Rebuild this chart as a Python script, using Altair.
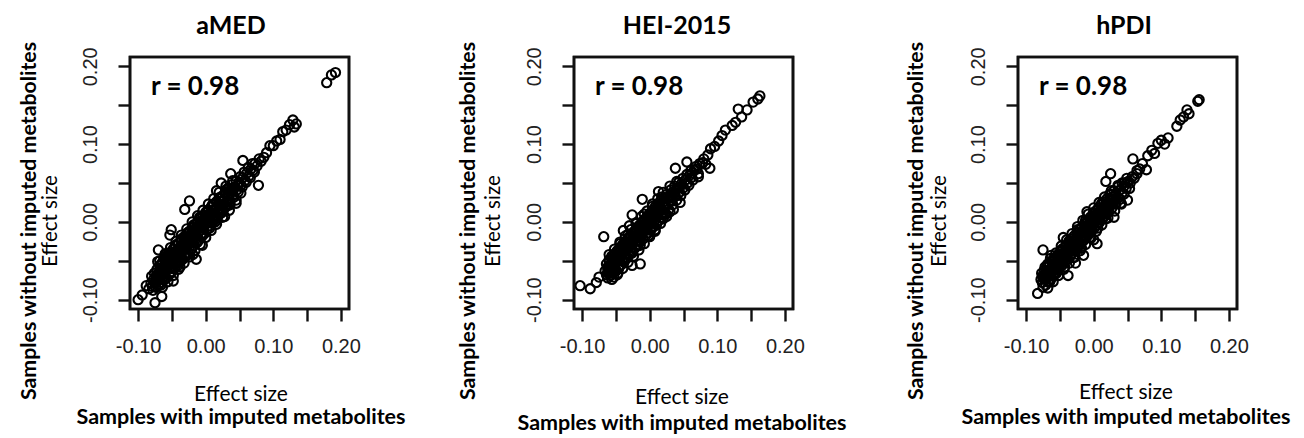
import altair as alt
import pandas as pd

# ---------------- data ----------------
panel_titles = ["aMED", "HEI-2015", "hPDI"]
r_labels = ["r = 0.98", "r = 0.98", "r = 0.98"]
tick_values = [-0.10, -0.05, 0.00, 0.05, 0.10, 0.15, 0.20]
axis_domain = [-0.112, 0.212]

amed_points = [
    (0.179, 0.179), (0.186, 0.189), (0.192, 0.192), (0.129, 0.131), (0.134, 0.126),
    (0.131, 0.122), (0.124, 0.125), (0.119, 0.118), (0.114, 0.116), (0.110, 0.106),
    (0.105, 0.104), (0.100, 0.098), (0.095, 0.098), (0.090, 0.089), (0.086, 0.083),
    (0.055, 0.079), (0.078, 0.047), (0.037, 0.062), (0.023, 0.050), (0.016, 0.040),
    (-0.024, 0.027), (-0.031, 0.016), (-0.051, -0.010), (-0.053, -0.017), (-0.070, -0.036),
    (-0.071, -0.051), (-0.048, -0.076), (-0.100, -0.100), (-0.094, -0.094), (-0.075, -0.104),
    (-0.065, -0.096), (-0.019, -0.042), (-0.014, -0.048), (0.028, 0.007), (0.052, 0.037),
    (-0.066, -0.081), (-0.038, -0.058), (-0.088, -0.082), (0.045, 0.028), (-0.005, -0.030),
    (-0.084, -0.086), (-0.081, -0.079), (-0.079, -0.083), (-0.077, -0.074), (-0.075, -0.078),
    (-0.073, -0.069), (-0.071, -0.073), (-0.069, -0.065), (-0.068, -0.070), (-0.066, -0.062),
    (-0.064, -0.067), (-0.063, -0.058), (-0.061, -0.064), (-0.060, -0.055), (-0.058, -0.061),
    (-0.057, -0.051), (-0.056, -0.058), (-0.054, -0.049), (-0.053, -0.055), (-0.051, -0.045),
    (-0.050, -0.052), (-0.048, -0.043), (-0.047, -0.049), (-0.046, -0.039), (-0.044, -0.046),
    (-0.043, -0.037), (-0.041, -0.044), (-0.040, -0.034), (-0.038, -0.041), (-0.037, -0.031),
    (-0.035, -0.038), (-0.034, -0.028), (-0.032, -0.035), (-0.031, -0.025), (-0.029, -0.032),
    (-0.028, -0.022), (-0.026, -0.029), (-0.025, -0.019), (-0.023, -0.026), (-0.022, -0.016),
    (-0.020, -0.023), (-0.019, -0.013), (-0.017, -0.020), (-0.016, -0.010), (-0.014, -0.017),
    (-0.013, -0.007), (-0.011, -0.014), (-0.010, -0.004), (-0.008, -0.011), (-0.007, -0.001),
    (-0.005, -0.008), (-0.004, 0.002), (-0.002, -0.005), (0.000, 0.005), (0.001, -0.002),
    (0.003, 0.008), (0.005, 0.001), (0.007, 0.011), (0.009, 0.004), (0.011, 0.014),
    (0.013, 0.008), (0.015, 0.018), (0.017, 0.012), (0.019, 0.022), (0.021, 0.016),
    (0.023, 0.026), (0.026, 0.020), (0.028, 0.030), (0.030, 0.025), (0.033, 0.035),
    (0.035, 0.029), (0.038, 0.040), (0.040, 0.034), (0.043, 0.045), (0.046, 0.041),
    (0.049, 0.051), (0.052, 0.047), (0.055, 0.057), (0.058, 0.053), (0.061, 0.063),
    (0.064, 0.059), (0.067, 0.068), (0.070, 0.066), (0.073, 0.075), (0.076, 0.072),
    (0.079, 0.081), (0.082, 0.078),
    (-0.058, -0.045), (-0.050, -0.060), (-0.045, -0.030), (-0.040, -0.052), (-0.036, -0.022),
    (-0.030, -0.044), (-0.027, -0.014), (-0.021, -0.035), (-0.018, -0.004), (-0.012, -0.026),
    (-0.009, 0.006), (-0.003, -0.016), (0.002, 0.014), (0.006, -0.008), (0.010, 0.022),
    (0.014, 0.000), (0.020, 0.031), (0.024, 0.012), (0.031, 0.042), (0.036, 0.022),
    (-0.062, -0.048), (-0.065, -0.074), (-0.055, -0.040), (-0.047, -0.057),
]

amed_band = [
    (-0.080, -0.070), (-0.078, -0.088), (-0.076, -0.066), (-0.074, -0.084), (-0.072, -0.061),
    (-0.070, -0.082), (-0.068, -0.056), (-0.066, -0.078), (-0.064, -0.052), (-0.062, -0.075),
    (-0.060, -0.047), (-0.058, -0.072), (-0.056, -0.043), (-0.054, -0.068), (-0.052, -0.040),
    (-0.050, -0.064), (-0.048, -0.035), (-0.046, -0.060), (-0.044, -0.031), (-0.042, -0.057),
    (-0.040, -0.027), (-0.038, -0.052), (-0.036, -0.024), (-0.034, -0.048), (-0.032, -0.019),
    (-0.030, -0.045), (-0.028, -0.016), (-0.026, -0.040), (-0.024, -0.012), (-0.022, -0.036),
    (-0.020, -0.008), (-0.018, -0.031), (-0.016, -0.004), (-0.014, -0.027), (-0.012, 0.000),
    (-0.010, -0.023), (-0.008, 0.004), (-0.006, -0.019), (-0.004, 0.008), (-0.002, -0.015),
    (0.000, 0.012), (0.002, -0.010), (0.004, 0.015), (0.006, -0.005), (0.008, 0.019),
    (0.010, -0.001), (0.012, 0.023), (0.014, 0.003), (0.016, 0.026), (0.018, 0.007),
    (0.020, 0.030), (0.022, 0.011), (0.024, 0.033), (0.026, 0.015), (0.029, 0.038),
    (0.031, 0.020), (0.034, 0.043), (0.036, 0.026), (0.039, 0.048), (0.042, 0.032),
    (0.045, 0.053), (0.048, 0.038), (0.051, 0.058), (0.054, 0.045), (0.057, 0.064),
    (0.060, 0.051), (0.063, 0.070), (0.066, 0.057), (0.069, 0.075), (0.072, 0.064),
    (-0.070, -0.069), (-0.065, -0.064), (-0.059, -0.058), (-0.052, -0.050), (-0.046, -0.044),
    (-0.040, -0.039), (-0.034, -0.033), (-0.028, -0.026), (-0.022, -0.020), (-0.016, -0.015),
    (-0.010, -0.008), (-0.004, -0.002), (0.002, 0.004), (0.008, 0.010), (0.014, 0.015),
    (0.020, 0.021), (0.027, 0.027), (0.034, 0.034), (0.041, 0.041), (0.048, 0.047),
]

amed_core = [
    (-0.068, -0.050), (-0.064, -0.084), (-0.060, -0.041), (-0.056, -0.077), (-0.052, -0.033),
    (-0.048, -0.069), (-0.044, -0.025), (-0.040, -0.061), (-0.036, -0.017), (-0.032, -0.053),
    (-0.028, -0.009), (-0.024, -0.045), (-0.020, 0.000), (-0.016, -0.037), (-0.012, 0.008),
    (-0.008, -0.029), (-0.004, 0.015), (0.000, -0.020), (0.004, 0.023), (0.008, -0.011),
    (0.012, 0.030), (0.016, -0.003), (0.020, 0.038), (0.025, 0.006), (0.030, 0.046),
    (0.035, 0.015), (0.040, 0.053), (0.045, 0.024),
    (-0.067, -0.060), (-0.061, -0.070), (-0.055, -0.047), (-0.049, -0.058), (-0.043, -0.041),
    (-0.037, -0.045), (-0.031, -0.020), (-0.025, -0.035), (-0.019, -0.026), (-0.013, -0.002),
    (-0.007, -0.016), (-0.001, 0.009), (0.005, -0.001), (0.011, 0.005), (0.017, 0.025),
    (0.023, 0.016), (0.029, 0.019), (0.035, 0.040),
]

hei_points = [
    (0.163, 0.162), (0.160, 0.158), (0.153, 0.154), (0.144, 0.144), (0.131, 0.145),
    (0.136, 0.135), (0.127, 0.128), (0.122, 0.124), (0.112, 0.118), (0.107, 0.111),
    (0.102, 0.104), (0.096, 0.097), (0.090, 0.094), (0.086, 0.086), (0.080, 0.081),
    (0.089, 0.069), (0.083, 0.074), (0.055, 0.077), (0.038, 0.069), (0.072, 0.058),
    (0.063, 0.063), (0.013, 0.039), (-0.011, 0.029), (-0.026, 0.009), (-0.039, -0.011),
    (-0.068, -0.019), (-0.014, -0.054), (-0.026, -0.056), (-0.053, -0.071), (-0.075, -0.071),
    (-0.079, -0.078), (-0.088, -0.086), (-0.103, -0.082), (-0.046, -0.060), (-0.061, -0.066),
    (0.030, 0.013), (0.020, 0.004), (-0.040, -0.050), (0.008, -0.012), (-0.030, -0.005),
    (-0.066, -0.063), (-0.064, -0.068), (-0.062, -0.058), (-0.060, -0.064), (-0.058, -0.054),
    (-0.057, -0.061), (-0.055, -0.050), (-0.054, -0.057), (-0.052, -0.046), (-0.051, -0.054),
    (-0.049, -0.043), (-0.048, -0.050), (-0.046, -0.039), (-0.045, -0.047), (-0.043, -0.036),
    (-0.042, -0.044), (-0.040, -0.032), (-0.039, -0.040), (-0.037, -0.029), (-0.036, -0.037),
    (-0.034, -0.026), (-0.033, -0.034), (-0.031, -0.022), (-0.030, -0.031), (-0.028, -0.019),
    (-0.027, -0.028), (-0.025, -0.016), (-0.024, -0.025), (-0.022, -0.013), (-0.021, -0.022),
    (-0.019, -0.010), (-0.018, -0.019), (-0.016, -0.007), (-0.015, -0.016), (-0.013, -0.004),
    (-0.012, -0.013), (-0.010, -0.001), (-0.009, -0.010), (-0.007, 0.002), (-0.006, -0.007),
    (-0.004, 0.005), (-0.003, -0.004), (-0.001, 0.008), (0.001, -0.001), (0.003, 0.011),
    (0.005, 0.003), (0.007, 0.014), (0.009, 0.007), (0.011, 0.018), (0.013, 0.011),
    (0.015, 0.022), (0.017, 0.015), (0.020, 0.026), (0.022, 0.019), (0.025, 0.030),
    (0.027, 0.023), (0.030, 0.034), (0.032, 0.028), (0.035, 0.039), (0.038, 0.033),
    (0.041, 0.044), (0.044, 0.038), (0.047, 0.049), (0.050, 0.044), (0.053, 0.054),
    (0.056, 0.050), (0.059, 0.060), (0.062, 0.057), (0.066, 0.067), (0.070, 0.068),
    (0.074, 0.075), (0.078, 0.076),
    (-0.056, -0.044), (-0.050, -0.062), (-0.044, -0.028), (-0.038, -0.052), (-0.032, -0.016),
    (-0.026, -0.040), (-0.020, -0.002), (-0.014, -0.030), (-0.008, 0.010), (-0.002, -0.018),
    (0.004, 0.020), (0.010, -0.004), (0.018, 0.032), (0.024, 0.010), (-0.060, -0.050),
    (-0.047, -0.066),
]

hei_band = [
    (-0.064, -0.054), (-0.062, -0.072), (-0.060, -0.049), (-0.058, -0.069), (-0.056, -0.045),
    (-0.054, -0.066), (-0.052, -0.041), (-0.050, -0.063), (-0.048, -0.037), (-0.046, -0.059),
    (-0.044, -0.033), (-0.042, -0.055), (-0.040, -0.029), (-0.038, -0.050), (-0.036, -0.025),
    (-0.034, -0.046), (-0.032, -0.021), (-0.030, -0.042), (-0.028, -0.017), (-0.026, -0.038),
    (-0.024, -0.013), (-0.022, -0.034), (-0.020, -0.009), (-0.018, -0.030), (-0.016, -0.005),
    (-0.014, -0.026), (-0.012, -0.001), (-0.010, -0.022), (-0.008, 0.003), (-0.006, -0.018),
    (-0.004, 0.007), (-0.002, -0.014), (0.000, 0.011), (0.002, -0.010), (0.004, 0.015),
    (0.006, -0.006), (0.008, 0.019), (0.010, -0.002), (0.012, 0.023), (0.014, 0.002),
    (0.016, 0.027), (0.018, 0.006), (0.021, 0.031), (0.023, 0.011), (0.026, 0.036),
    (0.028, 0.016), (0.031, 0.041), (0.034, 0.022), (0.037, 0.046), (0.040, 0.028),
    (0.043, 0.051), (0.046, 0.034), (0.049, 0.056), (0.052, 0.041), (0.055, 0.061),
    (0.058, 0.047), (0.061, 0.066), (0.064, 0.054), (0.068, 0.071), (0.072, 0.062),
    (-0.062, -0.061), (-0.056, -0.055), (-0.050, -0.049), (-0.044, -0.042), (-0.038, -0.036),
    (-0.032, -0.030), (-0.026, -0.024), (-0.020, -0.018), (-0.014, -0.012), (-0.008, -0.005),
    (-0.002, 0.001), (0.004, 0.007), (0.010, 0.012), (0.016, 0.018), (0.023, 0.024),
    (0.030, 0.031), (0.037, 0.037), (0.044, 0.044),
]

hei_core = [
    (-0.060, -0.042), (-0.056, -0.074), (-0.052, -0.035), (-0.048, -0.068), (-0.044, -0.026),
    (-0.040, -0.060), (-0.036, -0.018), (-0.032, -0.052), (-0.028, -0.010), (-0.024, -0.044),
    (-0.020, -0.001), (-0.016, -0.036), (-0.012, 0.007), (-0.008, -0.028), (-0.004, 0.014),
    (0.000, -0.019), (0.004, 0.023), (0.008, -0.010), (0.012, 0.030), (0.016, -0.002),
    (0.020, 0.038), (0.025, 0.007), (0.030, 0.046), (0.035, 0.016), (0.040, 0.052),
    (0.045, 0.025),
    (-0.059, -0.056), (-0.053, -0.061), (-0.047, -0.040), (-0.041, -0.048), (-0.035, -0.029),
    (-0.029, -0.036), (-0.023, -0.014), (-0.017, -0.024), (-0.011, -0.004), (-0.005, -0.011),
    (0.001, 0.010), (0.007, 0.001), (0.013, 0.020), (0.019, 0.012), (0.026, 0.031),
    (0.033, 0.027),
]

hpdi_points = [
    (0.154, 0.155), (0.156, 0.157), (0.138, 0.144), (0.141, 0.139), (0.133, 0.135),
    (0.123, 0.123), (0.128, 0.131), (0.100, 0.105), (0.105, 0.100), (0.095, 0.101),
    (0.086, 0.092), (0.080, 0.085), (0.078, 0.067), (0.058, 0.081), (0.072, 0.075),
    (0.025, 0.062), (0.018, 0.052), (0.050, 0.028), (0.005, -0.028), (0.000, -0.023),
    (-0.075, -0.036), (-0.063, -0.043), (-0.038, -0.069), (-0.065, -0.077), (-0.083, -0.092),
    (-0.015, -0.043), (-0.027, -0.053), (-0.076, -0.070), (-0.070, -0.064), (-0.010, 0.013),
    (0.064, 0.062), (0.090, 0.088), (0.110, 0.108), (0.045, 0.050), (-0.045, -0.020),
    (0.030, 0.006), (-0.052, -0.062), (0.040, 0.024),
    (-0.078, -0.074), (-0.076, -0.078), (-0.074, -0.069), (-0.072, -0.073), (-0.070, -0.067),
    (-0.068, -0.071), (-0.066, -0.063), (-0.064, -0.067), (-0.062, -0.058), (-0.060, -0.063),
    (-0.058, -0.054), (-0.056, -0.059), (-0.054, -0.050), (-0.052, -0.055), (-0.050, -0.045),
    (-0.048, -0.051), (-0.046, -0.041), (-0.044, -0.047), (-0.042, -0.037), (-0.040, -0.043),
    (-0.038, -0.033), (-0.036, -0.039), (-0.034, -0.029), (-0.032, -0.035), (-0.030, -0.025),
    (-0.028, -0.031), (-0.026, -0.021), (-0.024, -0.027), (-0.022, -0.017), (-0.020, -0.023),
    (-0.018, -0.013), (-0.016, -0.019), (-0.014, -0.009), (-0.012, -0.015), (-0.010, -0.005),
    (-0.008, -0.011), (-0.006, -0.001), (-0.004, -0.007), (-0.002, 0.003), (0.000, -0.003),
    (0.002, 0.007), (0.004, 0.001), (0.006, 0.011), (0.008, 0.005), (0.010, 0.015),
    (0.012, 0.009), (0.014, 0.019), (0.016, 0.013), (0.018, 0.023), (0.020, 0.017),
    (0.023, 0.027), (0.025, 0.021), (0.028, 0.032), (0.030, 0.026), (0.033, 0.036),
    (0.036, 0.031), (0.039, 0.041), (0.042, 0.037), (0.045, 0.046), (0.048, 0.043),
    (0.051, 0.052), (0.054, 0.050), (0.057, 0.058), (0.060, 0.056), (0.064, 0.066),
    (0.068, 0.068),
    (-0.060, -0.048), (-0.055, -0.066), (-0.048, -0.036), (-0.043, -0.058), (-0.036, -0.024),
    (-0.030, -0.046), (-0.024, -0.010), (-0.018, -0.034), (-0.012, 0.002), (-0.006, -0.020),
    (0.000, 0.012), (0.006, -0.008), (0.012, 0.024), (0.018, 0.004), (-0.068, -0.054),
    (0.024, 0.036),
]

hpdi_band = [
    (-0.077, -0.066), (-0.075, -0.084), (-0.073, -0.062), (-0.071, -0.081), (-0.069, -0.058),
    (-0.067, -0.077), (-0.065, -0.054), (-0.063, -0.073), (-0.061, -0.050), (-0.059, -0.069),
    (-0.057, -0.046), (-0.055, -0.064), (-0.053, -0.042), (-0.051, -0.060), (-0.049, -0.038),
    (-0.047, -0.056), (-0.045, -0.034), (-0.043, -0.052), (-0.041, -0.030), (-0.039, -0.048),
    (-0.037, -0.026), (-0.035, -0.044), (-0.033, -0.022), (-0.031, -0.040), (-0.029, -0.018),
    (-0.027, -0.036), (-0.025, -0.014), (-0.023, -0.032), (-0.021, -0.010), (-0.019, -0.028),
    (-0.017, -0.006), (-0.015, -0.024), (-0.013, -0.002), (-0.011, -0.020), (-0.009, 0.002),
    (-0.007, -0.016), (-0.005, 0.006), (-0.003, -0.012), (-0.001, 0.010), (0.001, -0.008),
    (0.003, 0.014), (0.005, -0.004), (0.007, 0.018), (0.009, 0.000), (0.011, 0.022),
    (0.013, 0.004), (0.015, 0.026), (0.017, 0.008), (0.020, 0.030), (0.022, 0.013),
    (0.025, 0.035), (0.027, 0.018), (0.030, 0.040), (0.033, 0.023), (0.036, 0.045),
    (0.039, 0.029), (0.042, 0.050), (0.045, 0.036), (0.049, 0.056), (0.053, 0.043),
    (-0.074, -0.073), (-0.068, -0.066), (-0.062, -0.061), (-0.056, -0.055), (-0.050, -0.048),
    (-0.044, -0.043), (-0.038, -0.036), (-0.032, -0.031), (-0.026, -0.024), (-0.020, -0.019),
    (-0.014, -0.012), (-0.008, -0.007), (-0.002, 0.000), (0.004, 0.005), (0.010, 0.011),
    (0.016, 0.017), (0.022, 0.023), (0.028, 0.029),
]

hpdi_core = [
    (-0.072, -0.058), (-0.068, -0.085), (-0.064, -0.047), (-0.060, -0.077), (-0.056, -0.040),
    (-0.052, -0.069), (-0.048, -0.031), (-0.044, -0.061), (-0.040, -0.023), (-0.036, -0.053),
    (-0.032, -0.015), (-0.028, -0.045), (-0.024, -0.006), (-0.020, -0.037), (-0.016, 0.002),
    (-0.012, -0.029), (-0.008, 0.010), (-0.004, -0.021), (0.000, 0.018), (0.004, -0.012),
    (0.008, 0.025), (0.012, -0.004), (0.016, 0.032), (0.021, 0.005), (0.026, 0.040),
    (0.031, 0.014), (0.036, 0.047), (0.041, 0.023),
    (-0.071, -0.066), (-0.065, -0.070), (-0.059, -0.051), (-0.053, -0.058), (-0.047, -0.044),
    (-0.041, -0.046), (-0.035, -0.028), (-0.029, -0.037), (-0.023, -0.016), (-0.017, -0.024),
    (-0.011, -0.005), (-0.005, -0.012), (0.001, 0.008), (0.007, -0.001), (0.013, 0.017),
    (0.019, 0.011), (0.026, 0.030), (0.032, 0.024),
]

x_title_top = "Effect size"
x_title_bottom = "Samples with imputed metabolites"
y_title_outer = "Samples without imputed metabolites"
y_title_inner = "Effect size"

# ---------------- layout / style ----------------
W, H = 219, 252
TITLE_FONT = "Lato"
TICK_FONT = "Liberation Sans"
LINE = "#111111"

# per-panel fine placement of the free text (pixels relative to plot area)
layout = [
    dict(tx=101, ytx_outer=-100, ytx_inner=-79, xt_x=111, xt_y1=338, xt_y2=361),
    dict(tx=103, ytx_outer=-105, ytx_inner=-80, xt_x=108, xt_y1=341, xt_y2=367),
    dict(tx=106, ytx_outer=-101, ytx_inner=-78, xt_x=108, xt_y1=336, xt_y2=361),
]

label_expr = ("round(datum.value*20) % 2 == 0 ? "
              "(datum.value < 0 ? '-' + format(-datum.value, '.2f') : format(datum.value, '.2f')) : ''")


def text_layer(txt, x, y, size, weight="normal", angle=0, font=TITLE_FONT, align="center"):
    return alt.Chart(pd.DataFrame({"t": [txt]})).mark_text(
        font=font, fontSize=size, fontWeight=weight, angle=angle,
        align=align, baseline="middle", color="black"
    ).encode(x=alt.value(x), y=alt.value(y), text="t:N")


def panel(points, title, rlab, lay):
    df = pd.DataFrame(points, columns=["x", "y"])
    box = alt.Chart(pd.DataFrame({"b": [0]})).mark_rect(
        fillOpacity=0, stroke=LINE, strokeWidth=2.6, strokeOpacity=1
    ).encode(x=alt.value(0), x2=alt.value(W), y=alt.value(0), y2=alt.value(H))
    pts = alt.Chart(df).mark_point(
        shape="circle", filled=False, stroke="black", size=85, strokeWidth=2.1,
        opacity=1, strokeOpacity=1
    ).encode(
        x=alt.X("x:Q", title=None,
                scale=alt.Scale(domain=axis_domain, nice=False, zero=False),
                axis=alt.Axis(values=tick_values, labelExpr=label_expr, domain=False,
                              grid=False, ticks=True, tickSize=12, tickWidth=2.4,
                              tickColor=LINE, tickOpacity=1, labelFont=TICK_FONT,
                              labelFontSize=20, labelColor="#222222", labelPadding=15,
                              labelOverlap=False, labelFlush=False)),
        y=alt.Y("y:Q", title=None,
                scale=alt.Scale(domain=axis_domain, nice=False, zero=False),
                axis=alt.Axis(values=tick_values, labelExpr=label_expr, domain=False,
                              grid=False, ticks=True, tickSize=12, tickWidth=2.4,
                              tickColor=LINE, tickOpacity=1, labelFont=TICK_FONT,
                              labelFontSize=20, labelColor="#222222", labelAngle=270,
                              labelAlign="center", labelBaseline="bottom",
                              labelPadding=18, labelOverlap=False, labelFlush=False)),
    )
    layers = [
        pts,
        box,
        text_layer(title, lay["tx"], -31, 25, "bold"),
        text_layer(rlab, 21, 30, 26, "bold", align="left"),
        text_layer(x_title_top, lay["xt_x"], lay["xt_y1"], 21),
        text_layer(x_title_bottom, lay["xt_x"], lay["xt_y2"], 21.5, "bold"),
        text_layer(y_title_outer, lay["ytx_outer"], 164, 21.3, "bold", angle=270),
        text_layer(y_title_inner, lay["ytx_inner"], 164, 20.5, angle=270),
    ]
    return alt.layer(*layers).properties(width=W, height=H)


panels = [
    panel(amed_points + amed_band + amed_core, panel_titles[0], r_labels[0], layout[0]),
    panel(hei_points + hei_band + hei_core, panel_titles[1], r_labels[1], layout[1]),
    panel(hpdi_points + hpdi_band + hpdi_core, panel_titles[2], r_labels[2], layout[2]),
]

chart = alt.hconcat(*panels, spacing=225, bounds="flush").properties(
    padding={"left": 9, "top": 4, "right": 0, "bottom": 0},
).configure_view(
    stroke=LINE, strokeWidth=2.6
)

chart.save("out.html", embed_options={"renderer": "svg", "actions": False})
